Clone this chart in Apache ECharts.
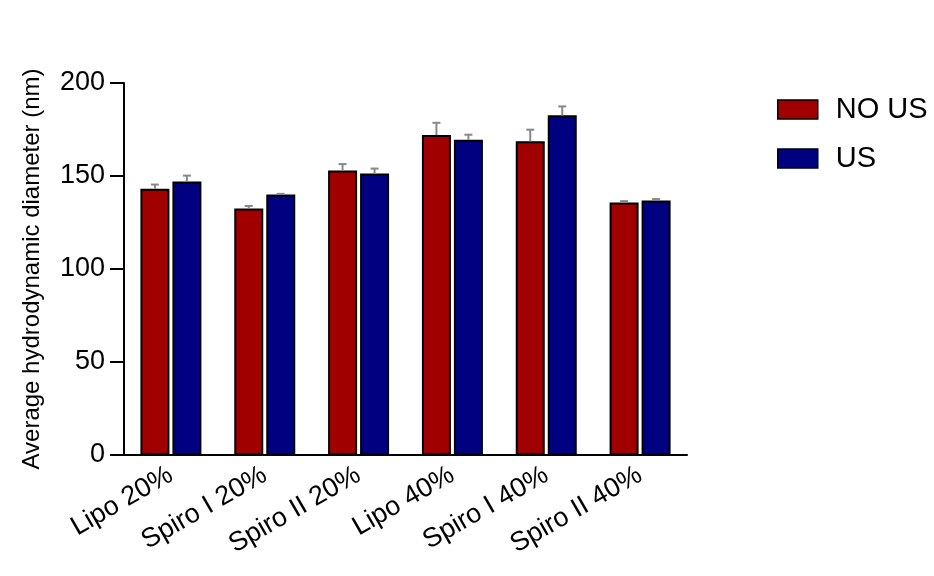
<!DOCTYPE html>
<html>
<head>
<meta charset="utf-8">
<script src="https://cdn.jsdelivr.net/npm/echarts@6/dist/echarts.min.js"></script>
<style>
  html, body { margin: 0; padding: 0; background: #fff; }
  #chart { width: 934px; height: 576px; }
</style>
</head>
<body>
<div id="chart"></div>
<script>
// Mean hydrodynamic diameter (nm) per formulation, with/without ultrasound
const categories = ['Lipo 20%', 'Spiro I 20%', 'Spiro II 20%', 'Lipo 40%', 'Spiro I 40%', 'Spiro II 40%'];
const noUsMean = [143.2, 132.5, 152.9, 172.0, 168.7, 135.7];
const noUsErr  = [2.2, 1.4, 3.5, 6.6, 6.2, 0.8];
const usMean   = [147.0, 140.0, 151.3, 169.5, 182.6, 136.8];
const usErr    = [3.2, 0.4, 2.7, 2.7, 4.8, 0.8];
const yTicks   = [0, 50, 100, 150, 200];

const FONT = 'Liberation Sans, Arial, sans-serif';
const BAR_W = 29;
const BAR_GAP = 3;
const RED = '#a00000';
const BLUE = '#000080';

// Upward-only error whiskers with a short cap, centred on each bar
function errorSeries(name, means, errs, side) {
  return {
    type: 'custom',
    name: name + ' err',
    z: 5,
    data: means.map((m, i) => [i, m, m + errs[i]]),
    renderItem: function (params, api) {
      const offset = side * (BAR_W + BAR_GAP) / 2;
      const base = api.coord([api.value(0), api.value(1)]);
      const top = api.coord([api.value(0), api.value(2)]);
      const x = base[0] + offset;
      const style = { stroke: '#888888', lineWidth: 2 };
      return {
        type: 'group',
        children: [
          { type: 'line', shape: { x1: x, y1: base[1], x2: x, y2: top[1] }, style: style },
          { type: 'line', shape: { x1: x - 4, y1: top[1], x2: x + 4, y2: top[1] }, style: style }
        ]
      };
    }
  };
}

const chart = echarts.init(document.getElementById('chart'), null, { renderer: 'canvas' });
chart.setOption({
  animation: false,
  backgroundColor: '#ffffff',
  textStyle: { fontFamily: FONT },
  grid: { left: 124, right: 247, top: 83, bottom: 121 },
  legend: {
    orient: 'vertical',
    left: 772,
    top: 90,
    icon: 'rect',
    itemWidth: 40,
    itemHeight: 19,
    itemGap: 20,
    data: ['NO US', 'US'],
    itemStyle: { borderColor: '#000', borderWidth: 1.5 },
    textStyle: { fontSize: 29, color: '#000', fontFamily: FONT, padding: [0, 0, 0, 13] }
  },
  xAxis: {
    type: 'category',
    data: categories,
    axisLine: { lineStyle: { color: '#000', width: 2 } },
    axisTick: { alignWithLabel: true, length: 14, lineStyle: { color: '#000', width: 2 } },
    axisLabel: { rotate: 30, margin: 18, fontSize: 27, color: '#000', fontFamily: FONT }
  },
  yAxis: {
    type: 'value',
    min: yTicks[0],
    max: yTicks[yTicks.length - 1],
    interval: 50,
    name: 'Average hydrodynamic diameter (nm)',
    nameLocation: 'middle',
    nameGap: 80,
    nameTextStyle: { fontSize: 24, color: '#000', fontFamily: FONT },
    splitLine: { show: false },
    axisLine: { show: true, lineStyle: { color: '#000', width: 2 } },
    axisTick: { show: true, length: 14, lineStyle: { color: '#000', width: 2 } },
    axisLabel: { margin: 19, fontSize: 27, color: '#000', fontFamily: FONT }
  },
  series: [
    {
      name: 'NO US',
      type: 'bar',
      data: noUsMean,
      barWidth: BAR_W,
      barGap: (BAR_GAP / BAR_W * 100) + '%',
      itemStyle: { color: RED, borderColor: '#000', borderWidth: 2 }
    },
    {
      name: 'US',
      type: 'bar',
      data: usMean,
      barWidth: BAR_W,
      itemStyle: { color: BLUE, borderColor: '#000', borderWidth: 2 }
    },
    errorSeries('NO US', noUsMean, noUsErr, -1),
    errorSeries('US', usMean, usErr, 1)
  ]
});
</script>
</body>
</html>
